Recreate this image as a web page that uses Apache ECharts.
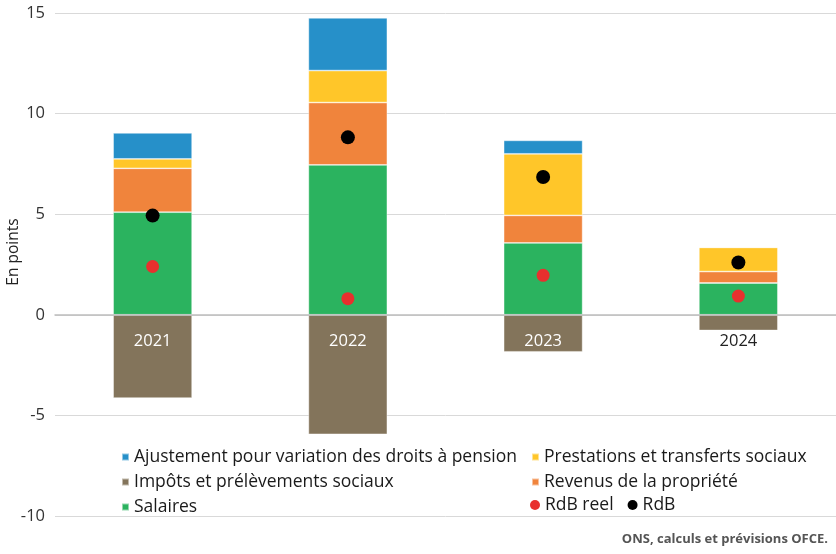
<!DOCTYPE html>
<html>
<head>
<meta charset="utf-8">
<script src="https://cdn.jsdelivr.net/npm/echarts@6/dist/echarts.min.js"></script>
<style>
  html, body { margin: 0; padding: 0; background: #fff; }
  #container { width: 836px; height: 554px; }
</style>
</head>
<body>
<div id="container"></div>
<script>
// années
var years = ['2021', '2022', '2023', '2024'];

// contributions (en points)
var salaires = [5.1, 7.45, 3.57, 1.58];
var revenus = [2.18, 3.1, 1.37, 0.57];
var prestations = [0.47, 1.59, 3.06, 1.2];
var ajustement = [1.29, 2.62, 0.67, 0];
var impots = [-4.14, -5.94, -1.84, -0.78];

// revenu disponible brut
var rdbReel = [2.4, 0.8, 1.96, 0.93];
var rdb = [4.93, 8.82, 6.85, 2.6];

var yTicks = [-10, -5, 0, 5, 10, 15];

var font = 'Open Sans';
var gridTop = 13, gridBottom = 38, chartH = 554;

// décalage de l'axe des x pour le placer sur 0
var plotH = chartH - gridTop - gridBottom;
var zeroOffset = -plotH * (0 - yTicks[0]) / (yTicks[yTicks.length - 1] - yTicks[0]);

function barSerie(name, data, color) {
    return {
        name: name,
        type: 'bar',
        stack: 'total',
        barWidth: 79,
        data: data,
        itemStyle: {
            color: color,
            borderColor: 'rgba(255,255,255,0.5)',
            borderWidth: 0.8
        }
    };
}

var legendText = { fontSize: 17.5, color: '#1a1a1a', fontFamily: font };

var dom = document.getElementById('container');
var myChart = echarts.init(dom);
var option;
option = {
    animation: false,
    textStyle: { fontFamily: font },
    grid: { left: 55, right: 0, top: gridTop, bottom: gridBottom },
    xAxis: {
        type: 'category',
        data: years,
        offset: zeroOffset,
        axisLine: { onZero: false, lineStyle: { color: '#bdbdbd', width: 1.5 } },
        axisTick: { show: false },
        axisLabel: {
            margin: 18,
            fontSize: 16.5,
            fontFamily: font,
            color: function (value, index) {
                return index < 3 ? '#ffffff' : '#222222';
            }
        },
        z: 10
    },
    yAxis: {
        type: 'value',
        min: yTicks[0],
        max: yTicks[yTicks.length - 1],
        interval: 5,
        axisLine: { show: false },
        axisTick: { show: false },
        axisLabel: { margin: 10, fontSize: 16.5, color: '#333', fontFamily: font },
        splitLine: { lineStyle: { color: '#d9d9d9', width: 1 } }
    },
    legend: [
        {
            orient: 'vertical', left: 116, top: 443, itemGap: 7,
            itemWidth: 7, itemHeight: 7, icon: 'rect',
            textStyle: legendText,
            data: ['Ajustement pour variation des droits à pension', 'Impôts et prélèvements sociaux', 'Salaires']
        },
        {
            orient: 'vertical', left: 526, top: 443, itemGap: 7,
            itemWidth: 7, itemHeight: 7, icon: 'rect',
            textStyle: legendText,
            data: ['Prestations et transferts sociaux', 'Revenus de la propriété']
        },
        {
            orient: 'horizontal', left: 525, top: 491, itemGap: 14,
            itemWidth: 10, itemHeight: 10, icon: 'circle',
            textStyle: legendText,
            data: ['RdB reel', 'RdB']
        }
    ],
    graphic: [
        {
            type: 'text',
            x: 14, y: 252,
            rotation: Math.PI / 2,
            style: {
                text: 'En points',
                fontSize: 15.5,
                fontFamily: font,
                fill: '#222',
                textAlign: 'center',
                textVerticalAlign: 'middle'
            }
        },
        {
            type: 'text',
            right: 8, top: 533,
            style: {
                text: 'ONS, calculs et prévisions OFCE.',
                fontSize: 13,
                fontWeight: 'bold',
                fontFamily: font,
                fill: '#555'
            }
        }
    ],
    series: [
        barSerie('Salaires', salaires, '#2BB35F'),
        barSerie('Revenus de la propriété', revenus, '#F0843C'),
        barSerie('Prestations et transferts sociaux', prestations, '#FFC629'),
        barSerie('Ajustement pour variation des droits à pension', ajustement, '#2690C9'),
        barSerie('Impôts et prélèvements sociaux', impots, '#83745B'),
        {
            name: 'RdB reel',
            type: 'scatter',
            symbolSize: 13,
            data: rdbReel,
            itemStyle: { color: '#E8302E', opacity: 1 },
            z: 5
        },
        {
            name: 'RdB',
            type: 'scatter',
            symbolSize: 14,
            data: rdb,
            itemStyle: { color: '#000000', opacity: 1 },
            z: 5
        }
    ]
};

if (option && typeof option === 'object') {
    myChart.setOption(option);
}
</script>
</body>
</html>
